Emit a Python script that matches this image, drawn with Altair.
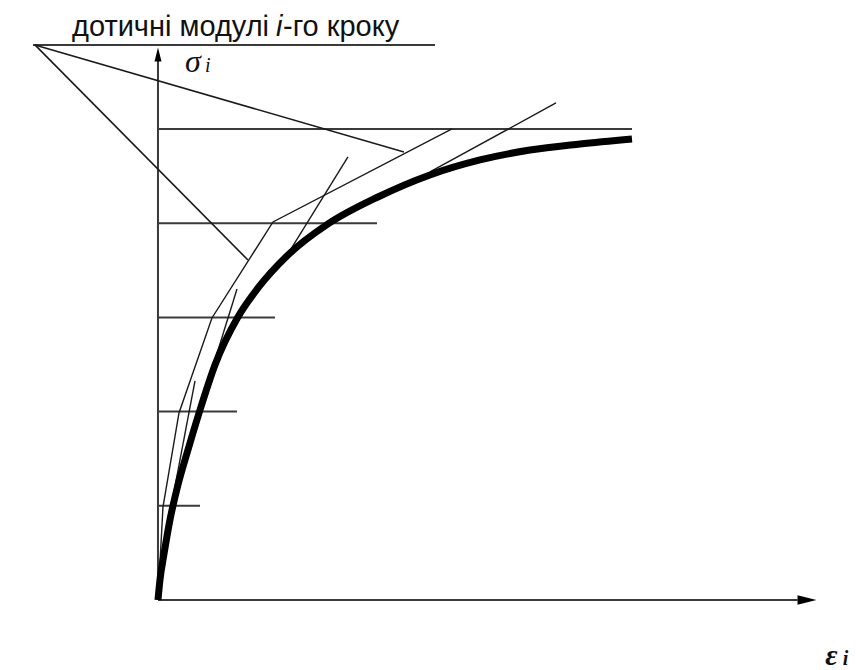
import altair as alt
import pandas as pd

# Stress-strain diagram, units: strain eps_i (x), stress sigma_i (y)
curve_eps = [0.0, 0.021, 0.064, 0.127, 0.212, 0.318, 0.446, 0.605, 0.849, 1.062,
             1.380, 1.805, 2.335, 2.887, 3.418, 3.949, 4.480, 5.032]
curve_sig = [0.0, 0.212, 0.488, 0.849, 1.221, 1.592, 2.017, 2.495, 3.004, 3.312,
             3.662, 3.992, 4.278, 4.512, 4.671, 4.777, 4.841, 4.894]

# stress levels of the loading steps and how far each level line reaches
step_levels = [1, 2, 3, 4, 5]
step_line_ends = [0.446, 0.839, 1.242, 2.325, 5.032]

# step-by-step polyline built with the tangent modulus of each step
poly_eps = [0.0, 0.053, 0.223, 0.573, 1.221, 3.121]
poly_sig = [0.0, 0.987, 1.985, 2.994, 4.013, 5.0]

# tangent segments to the curve (start and end points)
tan_eps0 = [0.032, 0.605, 1.359, 2.887]
tan_sig0 = [0.425, 2.548, 3.641, 4.544]
tan_eps1 = [0.393, 0.839, 2.017, 4.225]
tan_sig1 = [2.325, 3.301, 4.703, 5.276]

# pole of the tangent-moduli construction, its rays and the moduli line
pole_eps, pole_sig = -1.306, 5.892
ray_end_eps = [2.611, 0.955]
ray_end_sig = [4.756, 3.609]
moduli_line_eps = [-1.327, 2.941]
moduli_line_sig = 5.892

# coordinate axes
axis_eps_end = 6.79
axis_sig_end = 5.79

X_DOMAIN = [-1.677, 7.410]
Y_DOMAIN = [-0.743, 6.369]

xs = alt.Scale(domain=X_DOMAIN, nice=False, zero=False)
ys = alt.Scale(domain=Y_DOMAIN, nice=False, zero=False)


def X(field="x", **kw):
    return alt.X(field, type="quantitative", scale=xs, axis=None, **kw)


def Y(field="y", **kw):
    return alt.Y(field, type="quantitative", scale=ys, axis=None, **kw)


# ---- tables built from the arrays above ----
curve_df = pd.DataFrame({"x": curve_eps, "y": curve_sig, "i": range(len(curve_eps))})
poly_df = pd.DataFrame({"x": poly_eps, "y": poly_sig, "i": range(len(poly_eps))})

levels_df = pd.DataFrame({"x": [0.0] * len(step_levels), "x2": step_line_ends,
                          "y": step_levels, "y2": step_levels})

tan_df = pd.DataFrame({"x": tan_eps0, "y": tan_sig0, "x2": tan_eps1, "y2": tan_sig1})

rays_df = pd.DataFrame({"x": [pole_eps] * len(ray_end_eps), "y": [pole_sig] * len(ray_end_eps),
                        "x2": ray_end_eps, "y2": ray_end_sig})

moduli_df = pd.DataFrame({"x": [moduli_line_eps[0]], "x2": [moduli_line_eps[1]],
                          "y": [moduli_line_sig], "y2": [moduli_line_sig]})

axes_df = pd.DataFrame({"x": [0.0, 0.0], "y": [0.0, 0.0],
                        "x2": [axis_eps_end, 0.0], "y2": [0.0, axis_sig_end]})

ink = "#1a1a1a"
grey = "#3a3a3a"

axes = alt.Chart(axes_df).mark_rule(color=grey, strokeWidth=2).encode(
    x=X(), y=Y(), x2="x2", y2="y2")

arrow_up = alt.Chart(pd.DataFrame({"x": [0.0], "y": [axis_sig_end]})).mark_point(
    shape="M-0.5,1L0,-1L0.5,1Z", filled=True, size=196, opacity=1,
    color="#000000", strokeWidth=0).encode(x=X(), y=Y())

arrow_right = alt.Chart(pd.DataFrame({"x": [axis_eps_end + 0.1], "y": [0.0]})).mark_point(
    shape="M-1,-0.5L1,0L-1,0.5Z", filled=True, size=361, opacity=1,
    color="#000000", strokeWidth=0).encode(x=X(), y=Y())

levels = alt.Chart(levels_df).mark_rule(color=grey, strokeWidth=2).encode(
    x=X(), y=Y(), x2="x2", y2="y2")

moduli = alt.Chart(moduli_df).mark_rule(color=grey, strokeWidth=2).encode(
    x=X(), y=Y(), x2="x2", y2="y2")

rays = alt.Chart(rays_df).mark_rule(color=ink, strokeWidth=1.6).encode(
    x=X(), y=Y(), x2="x2", y2="y2")

tangents = alt.Chart(tan_df).mark_rule(color=ink, strokeWidth=1.4).encode(
    x=X(), y=Y(), x2="x2", y2="y2")

poly = alt.Chart(poly_df).mark_line(color=ink, strokeWidth=1.4).encode(
    x=X(), y=Y(), order="i:Q")

curve = alt.Chart(curve_df).mark_line(color="#000000", strokeWidth=7,
                                      interpolate="monotone", strokeCap="butt").encode(
    x=X(), y=Y(), order="i:Q")

# caption above the moduli line, with an italic "i"
title_parts = ["дотичні модулі", "i", "-го кроку"]
title_x = [-0.913, 1.253, 1.327]
title_y = 5.99


def label(text, x, y, **mark):
    return alt.Chart(pd.DataFrame({"x": [x], "y": [y], "t": [text]})).mark_text(**mark).encode(
        x=X(), y=Y(), text="t:N")


t1 = label(title_parts[0], title_x[0], title_y, align="left", baseline="alphabetic",
           font="Liberation Sans", fontSize=29, color="#111111")
t2 = label(title_parts[1], title_x[1], title_y, align="left", baseline="alphabetic",
           font="Liberation Sans", fontSize=29, fontStyle="italic", color="#111111")
t3 = label(title_parts[2], title_x[2], title_y, align="left", baseline="alphabetic",
           font="Liberation Sans", fontSize=29, color="#111111")

sig_lab = label("σ", 0.37, 5.61, align="center", baseline="alphabetic",
                font="Liberation Serif", fontSize=32, fontStyle="italic", color="#111111")
sig_i = label("i", 0.50, 5.61, align="left", baseline="alphabetic",
              font="Liberation Serif", fontSize=20, fontStyle="italic", color="#111111")

eps_lab = label("ε", 7.15, -0.69, align="center", baseline="alphabetic",
                font="Liberation Serif", fontSize=30, fontStyle="italic", fontWeight="bold",
                color="#111111")
eps_i = label("i", 7.27, -0.69, align="left", baseline="alphabetic",
              font="Liberation Serif", fontSize=20, fontStyle="italic", fontWeight="bold",
              color="#111111")

chart = alt.layer(
    axes, levels, moduli, rays, tangents, poly, curve,
    arrow_up, arrow_right, t1, t2, t3, sig_lab, sig_i, eps_lab, eps_i
).properties(
    width=856, height=670, autosize=alt.AutoSizeParams(type="none"), padding=0,
    background="white"
).configure_view(strokeWidth=0)

chart.save("out.html", embed_options={"renderer": "svg", "actions": False})
